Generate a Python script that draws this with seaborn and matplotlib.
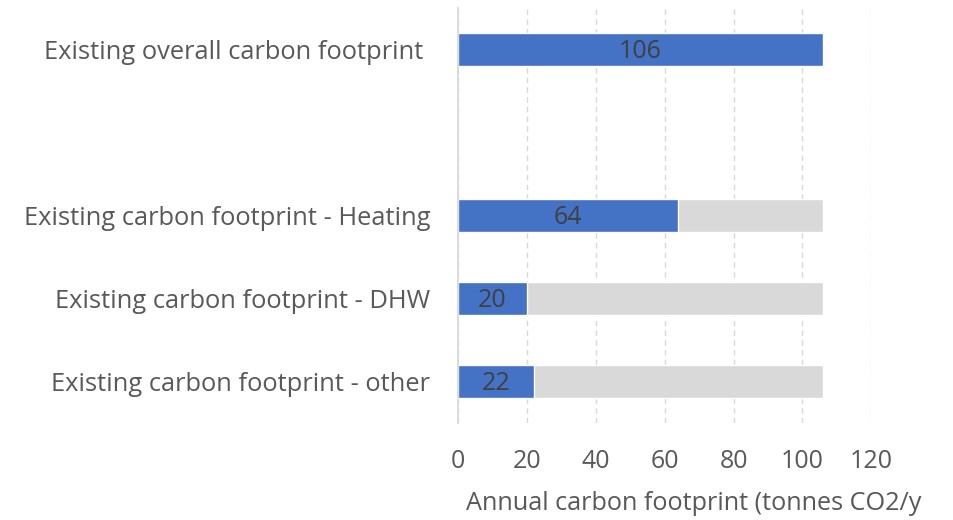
import matplotlib
matplotlib.use("Agg")
import matplotlib.pyplot as plt
from matplotlib.patches import Rectangle
import seaborn as sns
import pandas as pd

# Categories (blank row keeps the gap under the overall figure)
categories = [
    "Existing overall carbon footprint ",
    " ",
    "Existing carbon footprint - Heating",
    "Existing carbon footprint - DHW",
    "Existing carbon footprint - other",
]
footprint = [106, 0, 64, 20, 22]
total_ref = [0, 0, 106, 106, 106]
x_ticks = [0, 20, 40, 60, 80, 100, 120]

sns.set_theme(style="white")
plt.rcParams["font.family"] = ["Open Sans", "DejaVu Sans"]

df = pd.DataFrame({"category": categories, "footprint": footprint, "total": total_ref})

fig = plt.figure(figsize=(9.54, 5.2), dpi=100)
ax = fig.add_axes([0.4801, 0.1865, 0.4332, 0.798])

sns.barplot(data=df, y="category", x="total", color="#d9d9d9", width=0.4,
            orient="h", ax=ax, zorder=2, saturation=1)
sns.barplot(data=df, y="category", x="footprint", color="#4472c4", width=0.4,
            orient="h", ax=ax, zorder=3, saturation=1)

# Value labels centred in the blue bars
for i, v in enumerate(footprint):
    if v > 0:
        ax.text(v / 2, i + 0.02, f"{v}", ha="center", va="center", fontsize=18,
                color="#404040", zorder=4)

ax.set_xlim(0, 120)
ax.set_xticks(x_ticks)
ax.set_xticklabels([str(t) for t in x_ticks])
ax.set_ylim(4.5, -0.5)
ax.set_ylabel("")
ax.set_xlabel("")

ax.grid(axis="x", color="#d9d9d9", linestyle=(0, (4, 3)), linewidth=1.0, zorder=0)
ax.grid(axis="y", visible=False)
for side in ["top", "right", "bottom"]:
    ax.spines[side].set_visible(False)
ax.spines["left"].set_color("#d9d9d9")
ax.spines["left"].set_linewidth(1.3)
ax.spines["left"].set_zorder(5)

ax.tick_params(axis="x", length=0, pad=19, labelsize=18, labelcolor="#595959")
ax.tick_params(axis="y", length=0, pad=20, labelsize=18.4, labelcolor="#595959")

# Axis title, running off the right edge of the canvas
fig.text(466 / 954, 1 - 504 / 520, "Annual carbon footprint (tonnes CO2/year)",
         ha="left", va="center", fontsize=18.2, color="#595959")
fig.patches.append(Rectangle((922 / 954, 0), 1, 60 / 520, transform=fig.transFigure,
                             facecolor="white", edgecolor="none", zorder=10))

fig.savefig("out.png", dpi=100, facecolor="white")
